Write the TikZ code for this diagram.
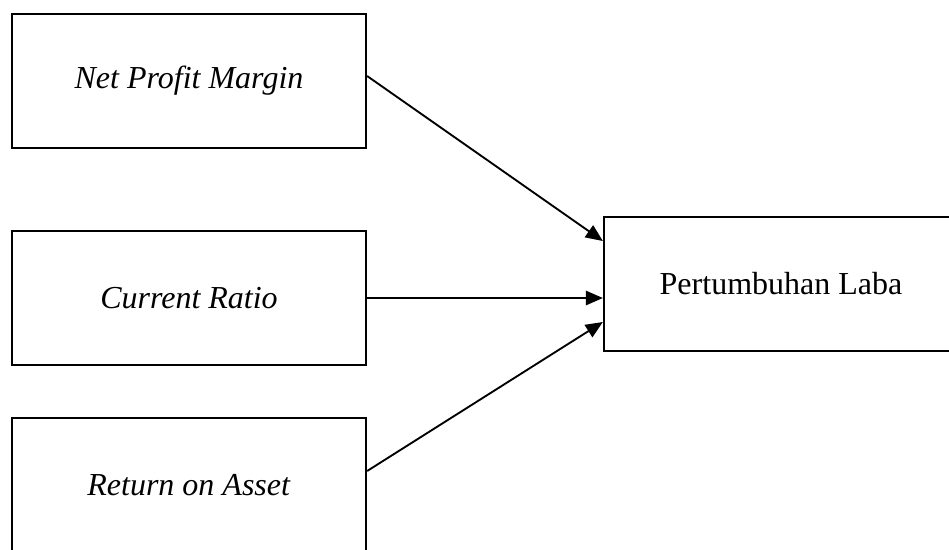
\documentclass[tikz,border=0pt]{standalone}
\usepackage{fontspec}
\setmainfont{Liberation Serif}
\usepackage{tikz}
\usetikzlibrary{calc,arrows.meta}

\begin{document}
\begin{tikzpicture}[x=0.375pt,y=-0.375pt,
  varbox/.style={draw=black,line width=0.85pt,minimum width=354*0.375pt,minimum height=134*0.375pt,inner sep=0pt,font=\fontsize{12pt}{14pt}\selectfont},
  link/.style={line width=0.7pt,-{Triangle[length=6.4pt,width=5.4pt]}}]

 \useasboundingbox (0,0) rectangle (949,549);

 % variabel independen
 \node[varbox] (npm) at (189, 81) {\textit{Net Profit Margin}};
 \node[varbox] (cr) at (189, 298) {\textit{Current Ratio}};
 \node[varbox] (roa) at (189, 485) {\textit{Return on Asset}};

 % variabel dependen
 \node[varbox] (pl) at (781, 284) {Pertumbuhan Laba};

 \draw[link] ($(npm.east)+(0,-5)$) -- ($(pl.west)+(0,-43)$);
 \draw[link] (cr.east) -- (cr.east -| pl.west);
 \draw[link] ($(roa.east)+(0,-14)$) -- ($(pl.west)+(0,38)$);

\end{tikzpicture}
\end{document}
